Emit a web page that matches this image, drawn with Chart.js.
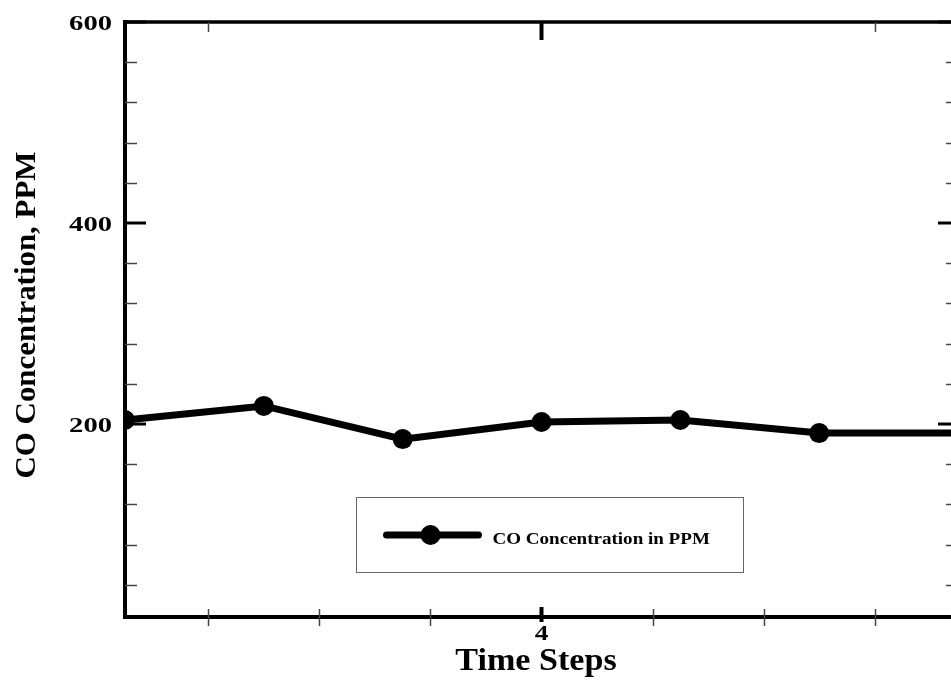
<!DOCTYPE html>
<html>
<head>
<meta charset="utf-8">
<script src="https://cdn.jsdelivr.net/npm/chart.js@4"></script>
<style>
  html, body { margin: 0; padding: 0; background: #fff; overflow: hidden; }
  #wrap { width: 968px; min-width: 968px; height: 682px; position: relative; }
  #c { display: block; width: 968px; height: 682px; }
</style>
</head>
<body>
<div id="wrap"><canvas id="c" width="968" height="682"></canvas></div>
<script>
// CO concentration (ppm) over the simulation time steps
const timeSteps = [1, 2, 3, 4, 5, 6, 7];
const coPpm = [204, 218, 185, 202, 204, 191, 191];

// axis ticks
const xMajorTicks = [4];
const xMinorTicks = [1.6, 2.4, 3.2, 4.8, 5.6, 6.4];
const xTopMinorTicks = [1.6, 6.4];
const yMajorTicks = [200, 400, 600];
const yMinorTicks = [40, 80, 120, 160, 240, 280, 320, 360, 440, 480, 520, 560];

const seriesLabel = 'CO Concentration in PPM';
const xTitle = 'Time Steps';
const yTitle = 'CO Concentration, PPM';

const SERIF = '"Liberation Serif", "Times New Roman", serif';

function wideText(ctx, text, x, y, size, sx, align, baseline, rot) {
  ctx.save();
  ctx.translate(x, y);
  if (rot) ctx.rotate(rot);
  ctx.scale(sx, 1);
  ctx.font = 'bold ' + size + 'px ' + SERIF;
  ctx.fillStyle = '#000';
  ctx.textAlign = align;
  ctx.textBaseline = baseline;
  ctx.fillText(text, 0, 0);
  ctx.restore();
}

function seg(ctx, x1, y1, x2, y2, w, color) {
  ctx.beginPath();
  ctx.strokeStyle = color;
  ctx.lineWidth = w;
  ctx.lineCap = 'butt';
  ctx.moveTo(x1, y1);
  ctx.lineTo(x2, y2);
  ctx.stroke();
}

const framePlugin = {
  id: 'frameAndLabels',
  afterDatasetsDraw(chart) {
    const ctx = chart.ctx;
    const a = chart.chartArea;
    const xs = chart.scales.x, ys = chart.scales.y;

    // frame
    seg(ctx, a.left - 2, a.top, a.right + 2, a.top, 3.5, '#000');
    seg(ctx, a.left - 2, a.bottom, a.right + 2, a.bottom, 4, '#000');
    seg(ctx, a.left, a.top - 2, a.left, a.bottom + 2, 4, '#000');
    seg(ctx, a.right, a.top - 2, a.right, a.bottom + 2, 4, '#000');

    // y ticks, left and right sides
    yMinorTicks.forEach(v => {
      const y = Math.round(ys.getPixelForValue(v)) + 0.5;
      seg(ctx, a.left, y, a.left + 12, y, 1.5, '#444');
      seg(ctx, a.right, y, a.right - 12, y, 1.5, '#444');
    });
    yMajorTicks.forEach(v => {
      const y = ys.getPixelForValue(v);
      seg(ctx, a.left, y, a.left + 21, y, 3, '#000');
      seg(ctx, a.right, y, a.right - 20, y, 3, '#000');
      wideText(ctx, String(v), a.left - 13, y + 8, 22, 1.3, 'right', 'alphabetic');
    });

    // x ticks, bottom and top
    xMinorTicks.forEach(v => {
      const x = Math.round(xs.getPixelForValue(v)) + 0.5;
      seg(ctx, x, a.bottom - 8, x, a.bottom + 9, 1.5, '#444');
    });
    xTopMinorTicks.forEach(v => {
      const x = Math.round(xs.getPixelForValue(v)) + 0.5;
      seg(ctx, x, a.top, x, a.top + 10, 1.5, '#444');
    });
    xMajorTicks.forEach(v => {
      const x = xs.getPixelForValue(v);
      seg(ctx, x, a.bottom - 10, x, a.bottom + 5, 4, '#000');
      seg(ctx, x, a.top, x, a.top + 18, 4, '#000');
      wideText(ctx, String(v), x, a.bottom + 23, 21, 1.3, 'center', 'alphabetic');
    });

    // axis titles
    wideText(ctx, xTitle, 536, a.bottom + 53, 31, 1.1, 'center', 'alphabetic');
    wideText(ctx, yTitle, 35, 315, 30, 1.03, 'center', 'alphabetic', -Math.PI / 2);

    // legend box
    const bx = 356.5, by = 497.5, bw = 387, bh = 75;
    ctx.save();
    ctx.strokeStyle = '#666';
    ctx.lineWidth = 1;
    ctx.strokeRect(bx, by, bw, bh);
    ctx.restore();
    const ly = by + 37.5;
    ctx.save();
    ctx.beginPath();
    ctx.strokeStyle = '#000';
    ctx.lineWidth = 7;
    ctx.lineCap = 'round';
    ctx.moveTo(bx + 30, ly);
    ctx.lineTo(bx + 122, ly);
    ctx.stroke();
    ctx.beginPath();
    ctx.fillStyle = '#000';
    ctx.arc(bx + 74, ly, 10, 0, Math.PI * 2);
    ctx.fill();
    ctx.restore();
    wideText(ctx, seriesLabel, bx + 136, ly + 9, 16, 1.19, 'left', 'alphabetic');
  }
};

const lastIndex = coPpm.length - 1;

new Chart(document.getElementById('c'), {
  type: 'line',
  data: {
    datasets: [{
      label: seriesLabel,
      data: timeSteps.map((t, i) => ({ x: t, y: coPpm[i] })),
      borderColor: '#000',
      backgroundColor: '#000',
      borderWidth: 7,
      tension: 0,
      pointRadius: c => (c.dataIndex === lastIndex ? 0 : 10),
      pointHoverRadius: 10,
      pointBackgroundColor: '#000',
      pointBorderWidth: 0
    }]
  },
  options: {
    responsive: false,
    devicePixelRatio: 1,
    animation: false,
    events: [],
    layout: { padding: { top: 22, right: 5, left: 0, bottom: 0 } },
    plugins: { legend: { display: false }, tooltip: { enabled: false } },
    scales: {
      x: {
        type: 'linear',
        min: 1,
        max: 7,
        grid: { display: false },
        border: { display: false },
        ticks: { display: false },
        afterFit: s => { s.height = 65; }
      },
      y: {
        min: 8,
        max: 600,
        grid: { display: false },
        border: { display: false },
        ticks: { display: false },
        afterFit: s => { s.width = 125; }
      }
    }
  },
  plugins: [framePlugin]
});
</script>
</body>
</html>
